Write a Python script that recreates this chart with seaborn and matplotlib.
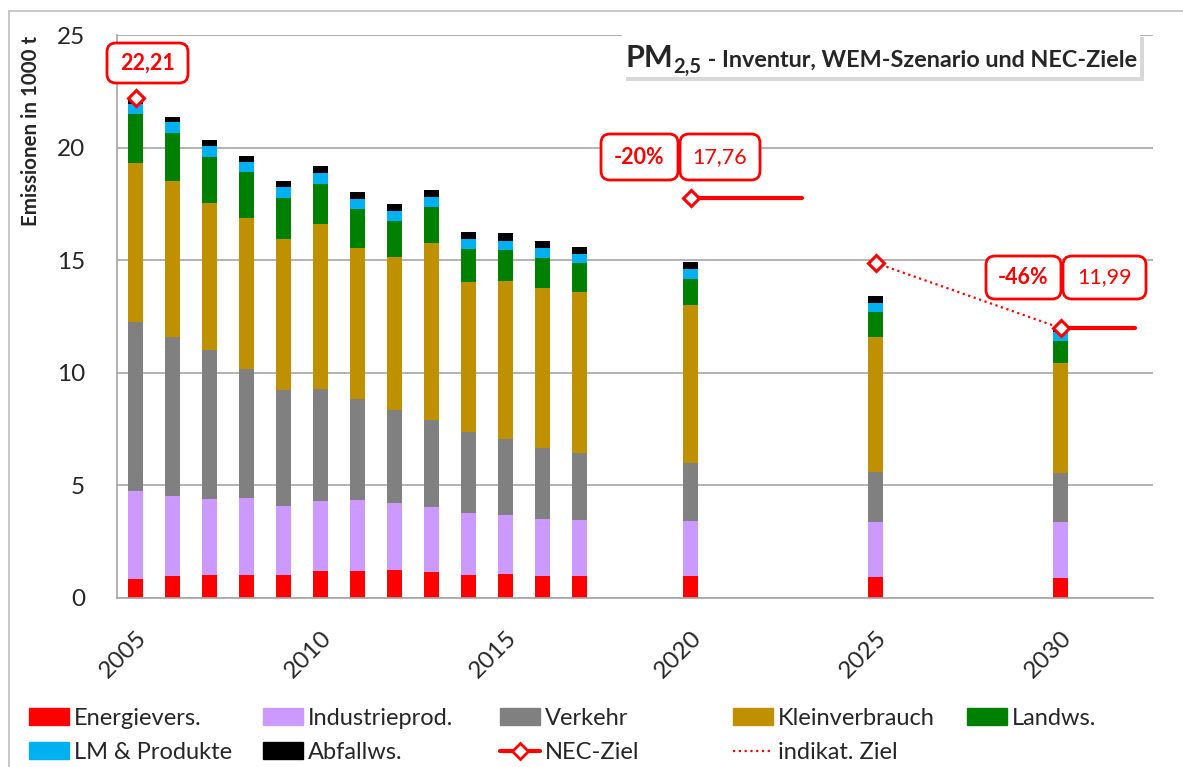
import numpy as np
import matplotlib.pyplot as plt
import matplotlib.patheffects as pe
from matplotlib.patches import Patch, FancyBboxPatch
from matplotlib.lines import Line2D
import seaborn as sns

# Emissions per sector (1000 t PM2.5)
years = [2005, 2006, 2007, 2008, 2009, 2010, 2011, 2012, 2013, 2014, 2015, 2016, 2017, 2020, 2025, 2030]
energie = [0.84, 0.98, 1.02, 1.02, 1.02, 1.20, 1.20, 1.26, 1.15, 1.02, 1.08, 0.98, 0.98, 0.98, 0.93, 0.89]
industrie = [3.90, 3.55, 3.38, 3.42, 3.07, 3.11, 3.15, 2.96, 2.89, 2.77, 2.62, 2.51, 2.48, 2.44, 2.43, 2.47]
verkehr = [7.53, 7.07, 6.60, 5.74, 5.15, 4.97, 4.50, 4.11, 3.88, 3.57, 3.35, 3.18, 2.99, 2.56, 2.25, 2.18]
klein = [7.03, 6.92, 6.54, 6.68, 6.70, 7.31, 6.68, 6.81, 7.84, 6.66, 7.03, 7.10, 7.14, 7.02, 5.99, 4.91]
landw = [2.18, 2.14, 2.06, 2.04, 1.84, 1.81, 1.74, 1.61, 1.60, 1.49, 1.39, 1.34, 1.27, 1.18, 1.08, 0.94]
lm_prod = [0.47, 0.48, 0.47, 0.48, 0.47, 0.47, 0.43, 0.44, 0.46, 0.43, 0.40, 0.45, 0.40, 0.43, 0.41, 0.43]
abfall = [0.25, 0.22, 0.25, 0.26, 0.27, 0.31, 0.32, 0.31, 0.28, 0.31, 0.34, 0.31, 0.34, 0.31, 0.32, 0.18]

sectors = ["Energievers.", "Industrieprod.", "Verkehr", "Kleinverbrauch", "Landws.", "LM & Produkte", "Abfallws."]
colors = ["#FF0000", "#CC99FF", "#808080", "#BF9000", "#008000", "#00B0F0", "#000000"]

# NEC targets: base year value and reduction targets, line runs to end year
nec_years = [2005, 2020, 2030]
nec_values = [22.21, 17.76, 11.99]
nec_end = [2005, 2023, 2032]
nec_labels = ["22,21", "17,76", "11,99"]
nec_pct = ["", "-20%", "-46%"]

# indicative target path
ind_years = [2025, 2030]
ind_values = [14.88, 11.99]

label_years = [2005, 2010, 2015, 2020, 2025, 2030]

W, H = 1183, 767


def fx(px):
    return px / W


def fy(py):
    return 1 - py / H


sns.set_style("white")
plt.rcParams["font.family"] = ["Lato", "DejaVu Sans"]

fig = plt.figure(figsize=(W / 100, H / 100), dpi=100)
ax = fig.add_axes([fx(117), fy(598), fx(1153) - fx(117), fy(35) - fy(598)])

# stacked bars: draw cumulative totals from the top layer down
layers = np.array([energie, industrie, verkehr, klein, landw, lm_prod, abfall])
stack = np.cumsum(layers, axis=0)
for i in reversed(range(len(sectors))):
    sns.barplot(x=years, y=stack[i], color=colors[i], width=0.4, native_scale=True,
                orient="x", saturation=1, errorbar=None, linewidth=0, ax=ax, zorder=2)

# NEC-Ziel
for yr, val, end in zip(nec_years, nec_values, nec_end):
    if end > yr:
        ax.plot([yr, end], [val, val], color="red", lw=3, solid_capstyle="round", zorder=5)
    ax.plot(yr, val, marker="D", ms=8, mfc="white", mec="red", mew=2.2, zorder=6)

# indikatives Ziel
ax.plot(ind_years, ind_values, color="red", lw=1.6, ls=(0, (1, 1.6)), zorder=4)
ax.plot(ind_years[0], ind_values[0], marker="D", ms=8, mfc="white", mec="red", mew=2.2, zorder=6)

# axes styling
ax.set_xlim(2004.5, 2032.5)
ax.set_ylim(0, 25)
ax.set_yticks(range(0, 26, 5))
ax.set_xticks(label_years)
ax.set_xticklabels([str(y) for y in label_years], rotation=45, ha="right", va="top",
                   rotation_mode="anchor")
ax.set_xticks(np.arange(2004.5, 2033, 1), minor=True)
ax.tick_params(axis="x", which="major", length=0, pad=21, labelsize=17.5)
ax.tick_params(axis="x", which="minor", length=7, width=1.2, color="#A6A6A6", direction="out")
ax.tick_params(axis="y", length=9, width=1.2, color="#A6A6A6", direction="out", pad=14, labelsize=17.5)
ax.set_xlabel("")
ax.set_ylabel("")
ax.yaxis.grid(True, color="#A6A6A6", lw=1.2)
ax.set_axisbelow(True)
for side in ["top", "right"]:
    ax.spines[side].set_visible(False)
for side in ["left", "bottom"]:
    ax.spines[side].set_color("#A6A6A6")
    ax.spines[side].set_linewidth(1.2)

fig.text(fx(31), fy(131), "Emissionen in 1000 t", rotation=90, ha="center", va="center",
         fontsize=14.8, fontweight="bold")

# outer frame (left and top visible)
fig.add_artist(Line2D([fx(9), 1], [fy(11), fy(11)], color="#BFBFBF", lw=1.2))
fig.add_artist(Line2D([fx(9), fx(9)], [fy(11), 0], color="#BFBFBF", lw=1.2))


def px_box(x0, y0, x1, y1, **kw):
    # box given in image pixels (top-left origin), drawn in inches
    return FancyBboxPatch((x0 / 100, (H - y1) / 100), (x1 - x0) / 100, (y1 - y0) / 100,
                          transform=fig.dpi_scale_trans, **kw)


# title box with shadow
title_box = px_box(622, 33, 1140, 77, boxstyle="square,pad=0", fc="white", ec="none")
title_box.set_path_effects([pe.SimplePatchShadow(offset=(3, -3), shadow_rgbFace="#909090", alpha=0.35),
                            pe.Normal()])
fig.add_artist(title_box)
renderer = fig.canvas.get_renderer()
t_pm = fig.text(fx(626), fy(67), "PM", fontsize=22, fontweight="bold", va="baseline")
x_sub = t_pm.get_window_extent(renderer).x1 / W
t_sub = fig.text(x_sub, fy(73), "2,5", fontsize=14.5, fontweight="bold", va="baseline")
x_rest = t_sub.get_window_extent(renderer).x1 / W
fig.text(x_rest, fy(67), " - Inventur, WEM-Szenario und NEC-Ziele", fontsize=16.8,
         fontweight="bold", va="baseline")

# label boxes for the NEC values
box_kw = dict(boxstyle="round,pad=0,rounding_size=0.09", fc="white", ec="red", lw=2)
fig.add_artist(px_box(107, 43, 188, 83, **box_kw))
fig.text(fx(147.5), fy(63), nec_labels[0], color="red", fontsize=15.5, fontweight="bold",
         ha="center", va="center")
fig.add_artist(px_box(601, 134, 678, 180, **box_kw))
fig.text(fx(639.5), fy(157), nec_pct[1], color="red", fontsize=15.5, fontweight="bold",
         ha="center", va="center")
fig.add_artist(px_box(680, 134, 760, 180, **box_kw))
fig.text(fx(720), fy(157), nec_labels[1], color="red", fontsize=15.5, ha="center", va="center")
fig.add_artist(px_box(986, 256, 1061, 299, **box_kw))
fig.text(fx(1023.5), fy(277.5), nec_pct[2], color="red", fontsize=15.5, fontweight="bold",
         ha="center", va="center")
fig.add_artist(px_box(1063, 256, 1146, 299, **box_kw))
fig.text(fx(1104.5), fy(277.5), nec_labels[2], color="red", fontsize=15.5, ha="center", va="center")

# legend, one column at a time so the columns sit at even spacing
handles = [Patch(color=c) for c in colors]
nec_handle = Line2D([], [], color="red", lw=3, marker="D", ms=8, mfc="white", mec="red", mew=2)
ind_handle = Line2D([], [], color="red", lw=1.6, ls=(0, (1, 1.6)))
columns = [
    ([handles[0], handles[5]], [sectors[0], sectors[5]]),
    ([handles[1], handles[6]], [sectors[1], sectors[6]]),
    ([handles[2], nec_handle], [sectors[2], "NEC-Ziel"]),
    ([handles[3], ind_handle], [sectors[3], "indikat. Ziel"]),
    ([handles[4]], [sectors[4]]),
]
col_x = [29, 263, 500, 733, 967]
for (hs, ls), x in zip(columns, col_x):
    fig.legend(hs, ls, loc="upper left", bbox_to_anchor=(fx(x), fy(708)), frameon=False,
               fontsize=17, borderpad=0, borderaxespad=0, handlelength=1.7, handleheight=0.72,
               handletextpad=0.22, labelspacing=0.55)

fig.savefig("out.png", dpi=100)
